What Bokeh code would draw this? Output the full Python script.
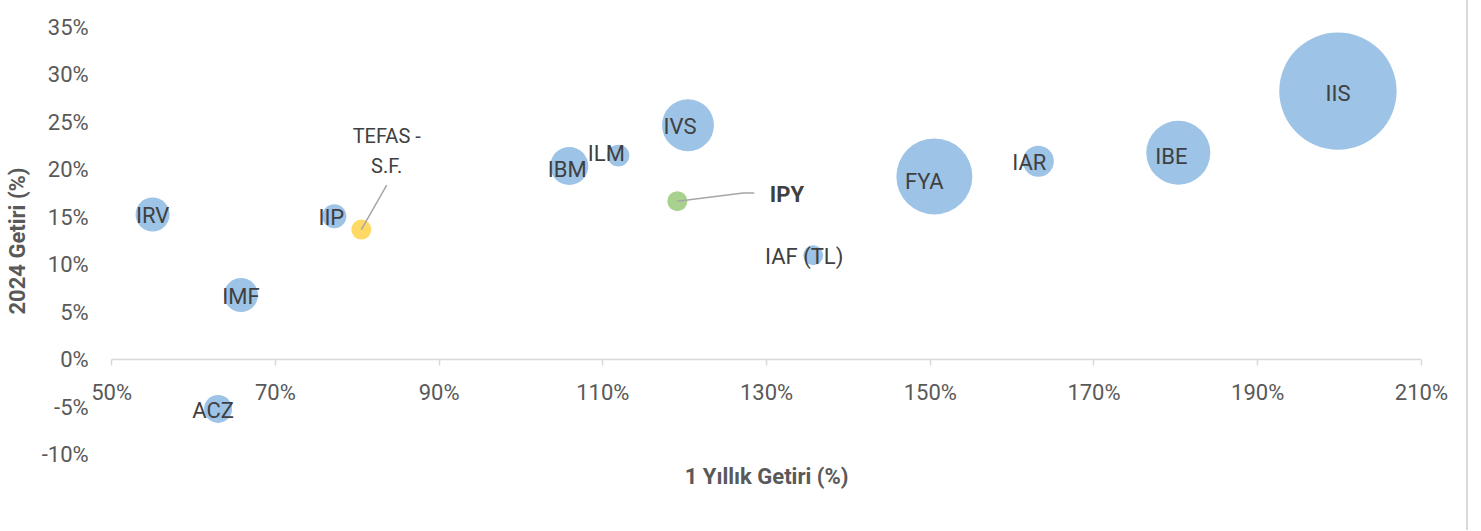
import math
from bokeh.plotting import figure
from bokeh.models import (ColumnDataSource, FixedTicker, PrintfTickFormatter, Label, Range1d)
from bokeh.core.properties import value
from bokeh.embed import file_html
from bokeh.resources import INLINE

# ---------------- data ----------------
funds = ["IRV", "IMF", "ACZ", "IIP", "IBM", "ILM", "IVS", "IAF (TL)", "FYA", "IAR", "IBE", "IIS"]
one_year_return = [55.0, 65.8, 63.0, 77.2, 105.9, 111.9, 120.4, 135.7, 150.5, 163.2, 180.3, 199.8]
ytd_2024_return = [15.3, 6.8, -5.2, 15.1, 20.4, 21.5, 24.7, 11.0, 19.3, 20.9, 21.8, 28.3]
fund_size = [8.4, 8.4, 5.7, 4.2, 10.5, 3.5, 19.6, 2.9, 41.9, 7.0, 29.7, 100.0]

benchmark_lines = ["TEFAS -", "S.F."]
benchmark_x = [80.5]
benchmark_y = [13.7]
benchmark_size = [2.9]

highlight_name = "IPY"
highlight_x = [119.1]
highlight_y = [16.7]
highlight_size = [2.9]

x_ticks = [50, 70, 90, 110, 130, 150, 170, 190, 210]
y_ticks = [-10, -5, 0, 5, 10, 15, 20, 25, 30, 35]
x_title = "1 Yıllık Getiri (%)"
y_title = "2024 Getiri (%)"

# ---------------- layout / styles ----------------
W, H = 1468, 530
FRAME_W = W - 2                      # css border takes 2px
X_LO, X_HI = x_ticks[0], x_ticks[-1]
Y_LO, Y_HI = y_ticks[0], y_ticks[-1]
AREA_L, AREA_R, AREA_T, AREA_B = 111, 1419, 27, 454   # plot-area pixels
PX_X = (AREA_R - AREA_L) / (X_HI - X_LO)
PX_Y = (AREA_B - AREA_T) / (Y_HI - Y_LO)
x_start = X_LO - AREA_L / PX_X
x_end = X_HI + (FRAME_W - AREA_R) / PX_X
y_end = Y_HI + AREA_T / PX_Y
y_start = Y_LO - (H - AREA_B) / PX_Y

MAX_R = 58.7  # px radius of the largest bubble
BLUE, YELLOW, GREEN = "#9DC3E6", "#FFD966", "#A9D18E"
LABEL_COLOR = "#404040"
AXIS_TEXT = "#595959"
AXIS_LINE = "#D9D9D9"
LEADER = "#A6A6A6"
FONT = "Roboto"
label_dx = [0, 0, -5, -3, -2, -12, -8, -9, -10, -9, -7, 0]
label_dy = [1, 1, 2, 1, 3, -2, 1, 1, 5, 1, 4, 2]


def diam(s):
    return 2 * MAX_R * math.sqrt(s / 100.0)


src = ColumnDataSource(dict(
    x=one_year_return, y=ytd_2024_return, name=funds,
    d=[diam(s) for s in fund_size], dx=label_dx, dy=label_dy,
))

p = figure(width=W, height=H,
           x_range=Range1d(x_start, x_end), y_range=Range1d(y_start, y_end),
           output_backend="svg", toolbar_location=None,
           min_border_left=0, min_border_right=0, min_border_top=0, min_border_bottom=0,
           background_fill_color="white", border_fill_color="white",
           outline_line_color=None)
p.styles = {"border-right": "2px solid #D9D9D9"}
p.xgrid.visible = False
p.ygrid.visible = False

xa = p.xaxis[0]
xa.fixed_location = 0
xa.bounds = (X_LO, X_HI)
xa.ticker = FixedTicker(ticks=x_ticks)
xa.formatter = PrintfTickFormatter(format="%d%%")
xa.axis_line_color = AXIS_LINE
xa.axis_line_width = 1.5
xa.major_tick_line_color = AXIS_LINE
xa.major_tick_line_width = 1.5
xa.major_tick_in = 0
xa.major_tick_out = 6
xa.minor_tick_line_color = None
xa.major_label_text_font = FONT
xa.major_label_text_font_size = "22px"
xa.major_label_text_color = AXIS_TEXT
xa.major_label_standoff = 14

ya = p.yaxis[0]
ya.fixed_location = X_LO
ya.bounds = (Y_LO, Y_HI)
ya.ticker = FixedTicker(ticks=y_ticks)
ya.formatter = PrintfTickFormatter(format="%d%%")
ya.axis_line_color = None
ya.major_tick_line_color = None
ya.major_tick_in = 0
ya.major_tick_out = 0
ya.minor_tick_line_color = None
ya.major_label_text_font = FONT
ya.major_label_text_font_size = "22px"
ya.major_label_text_color = AXIS_TEXT
ya.major_label_standoff = 23

# bubbles
p.scatter("x", "y", size="d", source=src, fill_color=BLUE, line_color=None)
p.scatter(benchmark_x, benchmark_y, size=[diam(s) for s in benchmark_size],
          fill_color=YELLOW, line_color=None)
p.scatter(highlight_x, highlight_y, size=[diam(s) for s in highlight_size],
          fill_color=GREEN, line_color=None)

# leader lines (annotation anchors in data units)
bench_label_pos = (83.6, 22.0)
bench_leader_top = (83.6, 18.4)
p.line([bench_leader_top[0], benchmark_x[0]], [bench_leader_top[1], benchmark_y[0]],
       line_color=LEADER, line_width=1.5)
hl_bend = (127.15, 17.55)
hl_end = (128.5, 17.55)
p.line([highlight_x[0], hl_bend[0], hl_end[0]], [highlight_y[0], hl_bend[1], hl_end[1]],
       line_color=LEADER, line_width=1.5)

# bubble labels
p.text("x", "y", text="name", source=src, x_offset="dx", y_offset="dy",
       text_align="center", text_baseline="middle",
       text_font=value(FONT), text_font_size="22px", text_color=LABEL_COLOR)

p.text(x=[bench_label_pos[0]] * 2, y=[bench_label_pos[1]] * 2, text=benchmark_lines,
       y_offset=[-15, 15], text_align="center", text_baseline="middle",
       text_font=value(FONT), text_font_size="20px", text_color=LABEL_COLOR)
p.add_layout(Label(x=130.4, y=17.4, text=highlight_name,
                   text_align="left", text_baseline="middle",
                   text_font=FONT, text_font_size="22px", text_font_style="bold",
                   text_color=LABEL_COLOR))

# axis titles
p.add_layout(Label(x=(X_LO + X_HI) / 2, y=Y_LO - 22 / PX_Y, text=x_title,
                   text_align="center", text_baseline="middle",
                   text_font=FONT, text_font_size="22px", text_font_style="bold",
                   text_color=AXIS_TEXT))
p.add_layout(Label(x=x_start + 17 / PX_X, y=(Y_LO + Y_HI) / 2, text=y_title, angle=math.pi / 2,
                   text_align="center", text_baseline="middle",
                   text_font=FONT, text_font_size="22px", text_font_style="bold",
                   text_color=AXIS_TEXT))

open("out.html", "w").write(file_html(p, INLINE))
